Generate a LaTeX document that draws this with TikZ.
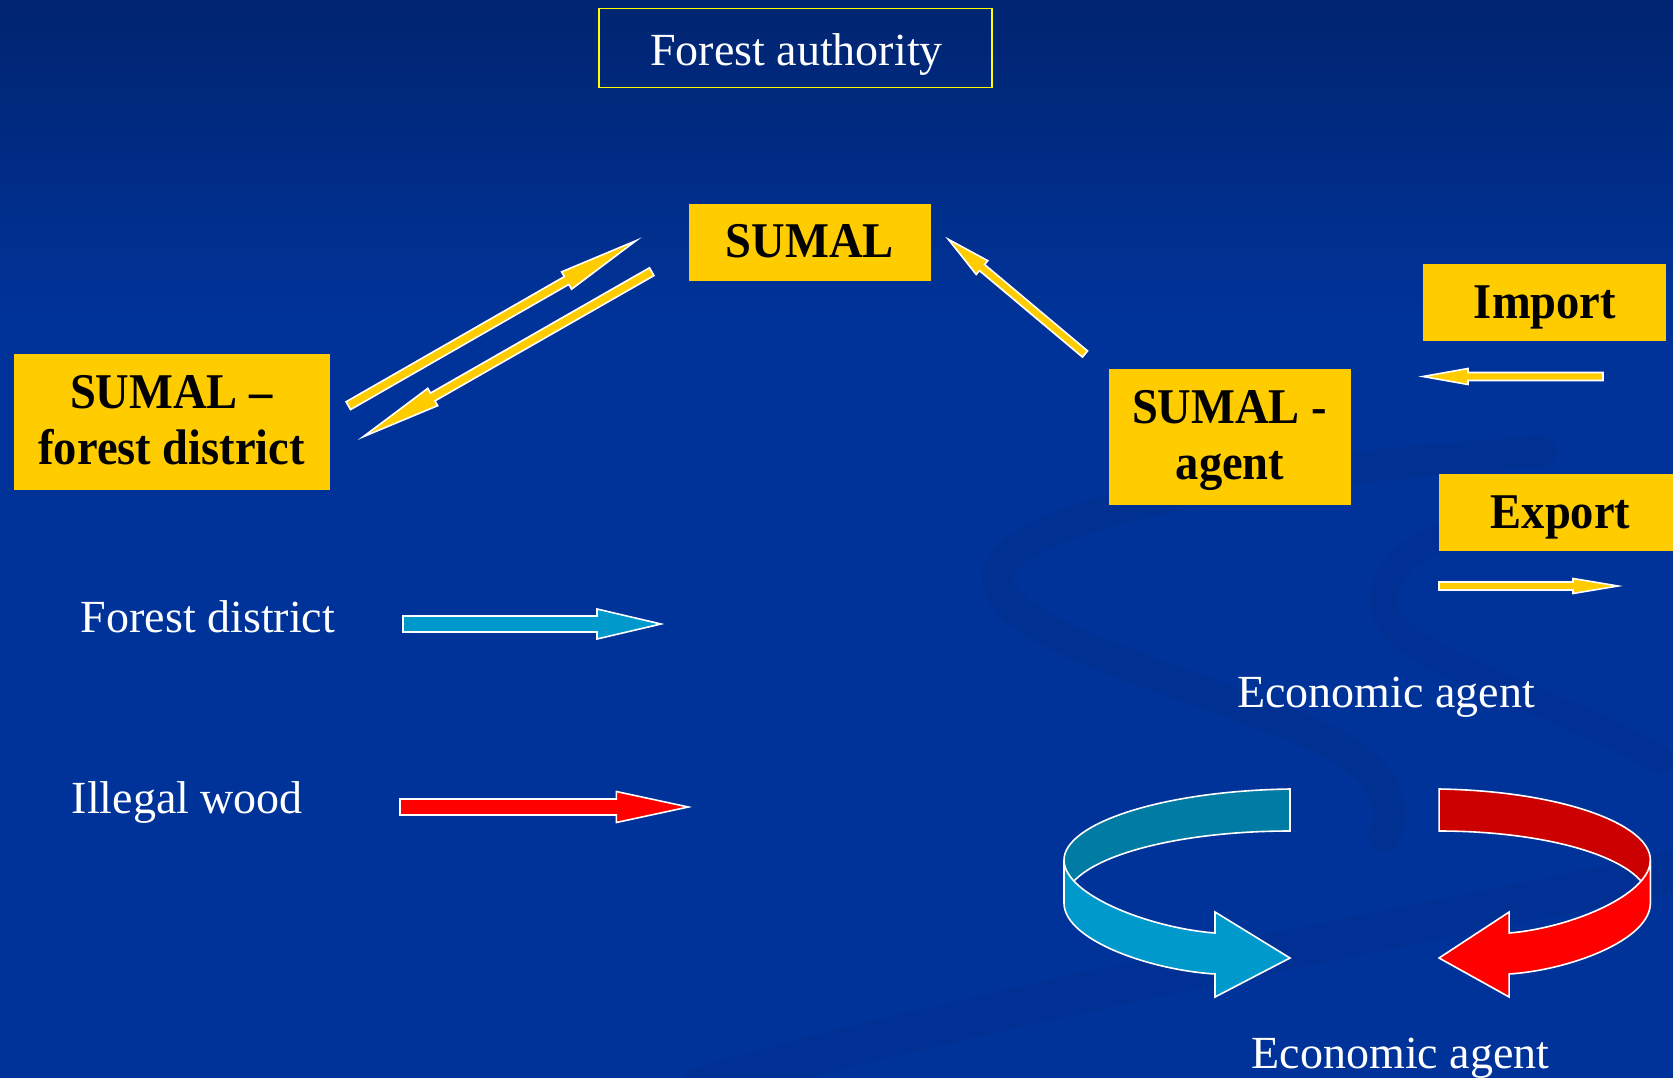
\documentclass[tikz,border=0pt]{standalone}
\usepackage{fontspec}
\setmainfont{Liberation Serif}
\newfontfamily\boxfont{Liberation Serif}[FakeStretch=0.93]
\usetikzlibrary{calc}
\definecolor{bgblue}{RGB}{0,51,153}
\definecolor{bgtop}{RGB}{0,36,112}
\definecolor{swoosh}{RGB}{0,43,134}
\definecolor{sumalyellow}{RGB}{255,204,0}
\definecolor{cyanarrow}{RGB}{0,153,204}
\definecolor{cyandark}{RGB}{0,123,163}
\definecolor{redlight}{RGB}{255,0,0}
\definecolor{reddark}{RGB}{204,0,0}
\definecolor{frameyellow}{RGB}{255,255,0}

% tail, tip, shaft half width, head half width, head length, colour
\newcommand\blockarrow[6]{%
  \coordinate (hb) at ($(#2)!#5pt!(#1)$);
  \filldraw[fill=#6, draw=white, line width=1.6pt]
    ($(#1)!#3pt!90:(#2)$) -- ($(hb)!#3pt!90:(#2)$) -- ($(hb)!#4pt!90:(#2)$) -- (#2)
    -- ($(hb)!#4pt!-90:(#2)$) -- ($(hb)!#3pt!-90:(#2)$) -- ($(#1)!#3pt!-90:(#2)$) -- cycle;
}
% ribbon arrow: dark (inner) colour, light (outer) colour
\newcommand\ringarrow[2]{%
  \filldraw[fill=#1, draw=white, line width=1.6pt]
    (1290,789) .. controls (1160,791) and (1064,824) .. (1064,860) -- (1064,903)
    .. controls (1064,860) and (1170,831) .. (1290,831) -- cycle;
  \filldraw[fill=#2, draw=white, line width=1.6pt]
    (1064,860) .. controls (1064,895) and (1150,928) .. (1215,933) -- (1215,912)
    -- (1290,958) -- (1215,997) -- (1215,974)
    .. controls (1150,970) and (1064,940) .. (1064,903) -- cycle;
}

\begin{document}
\begin{tikzpicture}[x=1pt,y=-1pt,
  ybox/.style={fill=sumalyellow, inner sep=0pt},
  btext/.style={font=\boxfont\bfseries\fontsize{50}{56}\selectfont, text=black, inner sep=0pt, anchor=base},
  wtext/.style={font=\fontsize{46}{50}\selectfont, text=white, inner sep=0pt}]
\useasboundingbox (0,0) rectangle (1673,1078);
% background
\fill[bgblue] (0,0) rectangle (1673,1078);
\shade[top color=bgtop, bottom color=bgblue] (0,0) rectangle (1673,320);
% faint swooshes
\draw[swoosh, line width=32pt, opacity=0.35, line cap=round]
  (1540,452) .. controls (1250,470) and (1000,515) .. (998,578)
  .. controls (995,640) and (1230,690) .. (1335,745)
  .. controls (1390,775) and (1395,810) .. (1385,835);
\draw[swoosh, line width=28pt, opacity=0.3, line cap=round]
  (1470,530) .. controls (1400,545) and (1380,575) .. (1385,610)
  .. controls (1395,660) and (1560,700) .. (1660,760);
\draw[swoosh, line width=40pt, opacity=0.3]
  (690,1090) .. controls (1000,1000) and (1400,930) .. (1680,870);

% Forest authority
\node[draw=frameyellow, line width=1.8pt, inner sep=0pt, minimum width=393pt, minimum height=79pt] (fa) at (795.5,48) {};
\node[wtext, anchor=base] (fatext) at (796.5,65.5) {Forest authority};

% SUMAL
\node[ybox, minimum width=242pt, minimum height=77pt] (sumal) at (810,242.5) {};
\node[btext] (sumaltext) at (809.7,257.7) {SUMAL};

% SUMAL - forest district
\node[ybox, minimum width=316pt, minimum height=136pt] (fd) at (172,422) {};
\node[btext] (fd1) at (171.5,408) {SUMAL –};
\node[btext] (fd2) at (171.7,464) {forest district};

% SUMAL - agent
\node[ybox, minimum width=242pt, minimum height=136pt] (ag) at (1230,437) {};
\node[btext] (ag1) at (1229.6,423) {SUMAL -};
\node[btext] (ag2) at (1230,479) {agent};

% Import / Export
\node[ybox, minimum width=243pt, minimum height=77pt] (imp) at (1544.5,302.5) {};
\node[btext] (imptext) at (1545,318) {Import};
\node[ybox, minimum width=244pt, minimum height=77pt] (exp) at (1561,512.5) {};
\node[btext] (exptext) at (1560.5,528) {Export};

% white labels
\node[wtext, anchor=base west] (fdlabel) at (80.7,632.7) {Forest district};
\node[wtext, anchor=base west] (illegal) at (71.5,813) {Illegal wood};
\node[wtext, anchor=base] (eco1) at (1386,707) {Economic agent};
\node[wtext, anchor=base] (eco2) at (1400.6,1068.3) {Economic agent};

% arrow end points
\coordinate (upA) at (348.3,405.7);  \coordinate (upB) at (636,240.7);
\coordinate (dnA) at (651.7,271.7);  \coordinate (dnB) at (363.3,436.7);
\coordinate (agA) at (1085,354);     \coordinate (agB) at (948.3,239.3);
\coordinate (imA) at (1603,376.5);   \coordinate (imB) at (1423,376.5);
\coordinate (exA) at (1439,586);     \coordinate (exB) at (1618,586);
\coordinate (cyA) at (403,624);      \coordinate (cyB) at (661,624);
\coordinate (rdA) at (400,807);      \coordinate (rdB) at (688.3,807);

\blockarrow{upA}{upB}{4.5}{10}{80}{sumalyellow}
\blockarrow{dnA}{dnB}{4.5}{10}{80}{sumalyellow}
\blockarrow{agA}{agB}{4}{9}{44}{sumalyellow}
\blockarrow{imA}{imB}{4}{8}{45}{sumalyellow}
\blockarrow{exA}{exB}{4}{7.5}{45}{sumalyellow}
\blockarrow{cyA}{cyB}{8}{15}{64}{cyanarrow}
\blockarrow{rdA}{rdB}{8}{15.5}{72}{redlight}

% ribbon arrows
\ringarrow{cyandark}{cyanarrow}
\begin{scope}[shift={(2645.2,0)}, xscale=-0.935]
  \ringarrow{reddark}{redlight}
\end{scope}
\end{tikzpicture}
\end{document}
